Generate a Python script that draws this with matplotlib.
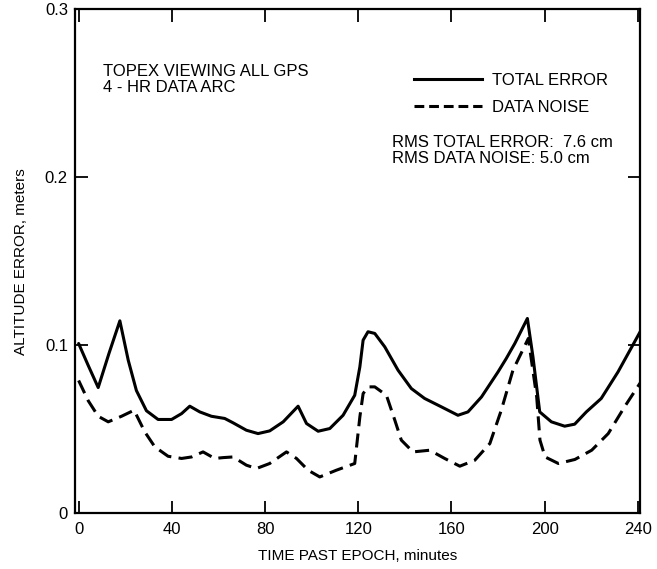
import matplotlib
matplotlib.use("Agg")
import matplotlib.pyplot as plt
from matplotlib.lines import Line2D

# Total error (solid)
t_total = [0, 4.1, 8.4, 13.0, 17.7, 21.3, 24.8, 29.1, 34.1, 39.9, 44.2, 47.7, 52.0,
           57.0, 62.7, 66.3, 72.0, 77.0, 82.0, 87.8, 94.2, 97.8, 102.8, 107.8,
           113.5, 118.5, 120.7, 122.1, 124.2, 127.1, 131.4, 137.1, 142.8, 148.5,
           155.7, 162.8, 167.1, 172.9, 180.0, 183.5, 187.2, 192.6, 195.0, 197.9,
           202.9, 208.6, 212.9, 217.9, 224.3, 231.5, 241.0]
total_err = [0.101, 0.088, 0.0748, 0.095, 0.1145, 0.091, 0.073, 0.061, 0.0558,
             0.0558, 0.0593, 0.0637, 0.0603, 0.0577, 0.0564, 0.0538, 0.0494, 0.0474,
             0.049, 0.0544, 0.0637, 0.0534, 0.0488, 0.0504, 0.0583, 0.0702, 0.0871,
             0.103, 0.108, 0.107, 0.099, 0.0851, 0.0742, 0.0683, 0.0633, 0.0583,
             0.0603, 0.0692, 0.0841, 0.092, 0.101, 0.1159, 0.093, 0.0603, 0.0544,
             0.0518, 0.053, 0.0603, 0.0683, 0.0841, 0.108]

# Data noise (dashed)
t_noise = [0, 4.1, 8.4, 12.7, 18.4, 23.8, 28.4, 32.7, 38.4, 44.2, 48.5, 53.4, 58.4,
           62.0, 66.3, 72.0, 76.3, 82.0, 89.2, 93.5, 98.5, 103.5, 110.6, 118.5,
           120.7, 122.1, 124.2, 127.1, 132.1, 135.7, 138.5, 143.5, 150.7, 157.1,
           163.6, 170.0, 176.5, 181.4, 186.4, 193.0, 196.6, 198.0, 200.2,
           205.9, 213.0, 220.2, 227.3, 234.3, 241.0]
data_noise = [0.079, 0.067, 0.0577, 0.0544, 0.0577, 0.0613, 0.0484, 0.0395, 0.0339,
              0.0326, 0.0335, 0.0365, 0.0326, 0.0331, 0.0335, 0.0286, 0.0266, 0.0296,
              0.0365, 0.0326, 0.0256, 0.0216, 0.0256, 0.0296, 0.0573, 0.0712, 0.0752,
              0.0752, 0.0702, 0.0554, 0.0435, 0.0365, 0.0375, 0.0326, 0.028, 0.0315,
              0.0415, 0.0613, 0.0851, 0.104, 0.0692, 0.0435, 0.0335, 0.0296,
              0.032, 0.0375, 0.0474, 0.0633, 0.0775]

xticks = [0, 40, 80, 120, 160, 200, 240]
yticks = [0, 0.1, 0.2, 0.3]
ytick_labels = ["0", "0.1", "0.2", "0.3"]

plt.rcParams['font.family'] = ['Liberation Sans', 'DejaVu Sans']

fig = plt.figure(figsize=(6.57, 5.69), dpi=100)
ax = fig.add_axes([0.114, 0.098, 0.860, 0.886])

ax.plot(t_total, total_err, color='black', lw=2.2, solid_joinstyle='round',
        solid_capstyle='round')
ax.plot(t_noise, data_noise, color='black', lw=2.2, dashes=(4.6, 2.4),
        dash_joinstyle='round')

ax.set_xlim(-1.6, 240.9)
ax.set_ylim(0, 0.3)
ax.set_xticks(xticks)
ax.set_yticks(yticks)
ax.set_yticklabels(ytick_labels)
ax.tick_params(direction='in', length=9, width=1.3, top=True, right=True,
               labelsize=12)
ax.tick_params(axis='x', pad=6)
ax.tick_params(axis='y', pad=5)
for s in ax.spines.values():
    s.set_linewidth(1.6)

ax.set_xlabel("TIME PAST EPOCH, minutes", fontsize=11, labelpad=9)
ax.set_ylabel("ALTITUDE ERROR, meters", fontsize=11, labelpad=12)

ax.text(0.049, 0.891, "TOPEX VIEWING ALL GPS\n4 - HR DATA ARC", transform=ax.transAxes,
        fontsize=12, va='top', ha='left', linespacing=1.1)

handles = [Line2D([], [], color='black', lw=2.2),
           Line2D([], [], color='black', lw=2.2, dashes=(3.2, 1.6))]
ax.legend(handles, ["TOTAL ERROR", "DATA NOISE"], loc='upper left',
          bbox_to_anchor=(0.600, 0.874), frameon=False, fontsize=12,
          handlelength=4.1, handletextpad=0.6, labelspacing=0.75, borderaxespad=0,
          borderpad=0)

ax.text(0.561, 0.750, "RMS TOTAL ERROR:  7.6 cm\nRMS DATA NOISE: 5.0 cm",
        transform=ax.transAxes, fontsize=12, va='top', ha='left', linespacing=1.05)

fig.savefig("out.png", dpi=100)
